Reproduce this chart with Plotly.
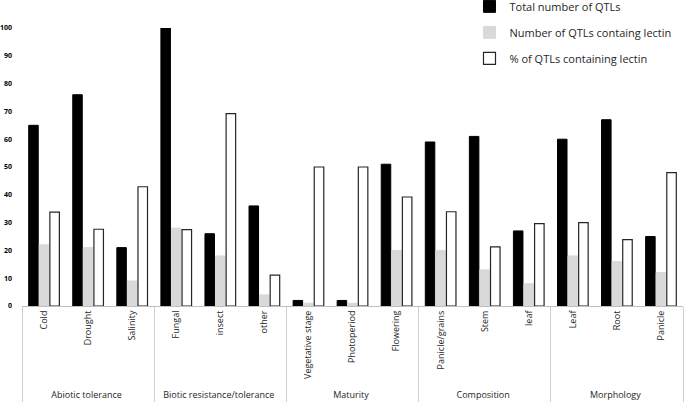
import plotly.graph_objects as go

groups = ["Abiotic tolerance"] * 3 + ["Biotic resistance/tolerance"] * 3 + ["Maturity"] * 3 + ["Composition"] * 3 + ["Morphology"] * 3
categories = ["Cold", "Drought", "Salinity", "Fungal", "insect", "other",
              "Vegetative stage", "Photoperiod", "Flowering",
              "Panicle/grains", "Stem", "leaf", "Leaf", "Root", "Panicle"]
total_qtls = [65, 76, 21, 100, 26, 36, 2, 2, 51, 59, 61, 27, 60, 67, 25]
lectin_qtls = [22, 21, 9, 28, 18, 4, 1, 1, 20, 20, 13, 8, 18, 16, 12]
pct_lectin = [33.8, 27.6, 42.9, 27.5, 69.2, 11.1, 50, 50, 39.2, 33.9, 21.3, 29.6, 30, 23.9, 48]
series_names = ["Total number of QTLs", "Number of QTLs containg lectin", "% of QTLs containing lectin"]

x = [groups, categories]

fig = go.Figure()
fig.add_trace(go.Bar(x=x, y=total_qtls, name=series_names[0], legendgroup="a",
                     marker=dict(color="#000000", line=dict(color="#000000", width=1))))
fig.add_trace(go.Bar(x=x, y=lectin_qtls, name=series_names[1], legendgroup="b",
                     marker=dict(color="#d9d9d9", line=dict(color="#d9d9d9", width=1))))
fig.add_trace(go.Bar(x=x, y=pct_lectin, name=series_names[2], legendgroup="c",
                     marker=dict(color="#ffffff", line=dict(color="#262626", width=1.2))))

fig.update_layout(
    width=685, height=404,
    margin=dict(l=22, r=2, t=28, b=98, autoexpand=False),
    paper_bgcolor="white", plot_bgcolor="white",
    barmode="group", bargap=0.28, bargroupgap=0.1,
    font=dict(family="Open Sans, Liberation Sans, sans-serif", color="#404040"),
    showlegend=True,
    legend=dict(x=0.677, y=1.13, xanchor="left", yanchor="top",
                font=dict(size=11, color="#262626"), tracegroupgap=7,
                bgcolor="rgba(0,0,0,0)"),
)
fig.update_yaxes(range=[0, 100], showgrid=False, zeroline=False, showline=False,
                 tickmode="linear", tick0=0, dtick=10, ticks="", ticklabelstandoff=9,
                 tickfont=dict(size=7, color="#000000", weight="bold"), automargin=False)
fig.update_xaxes(type="multicategory", showline=True, linecolor="#bfbfbf", linewidth=1,
                 tickangle=-90, tickfont=dict(size=9, color="#262626"), ticks="",
                 showdividers=True, dividercolor="#d0d0d0", dividerwidth=1,
                 automargin=False, showgrid=False)

fig.write_html("out.html", config={"displayModeBar": False},
               post_script="document.body.style.margin='0';")
